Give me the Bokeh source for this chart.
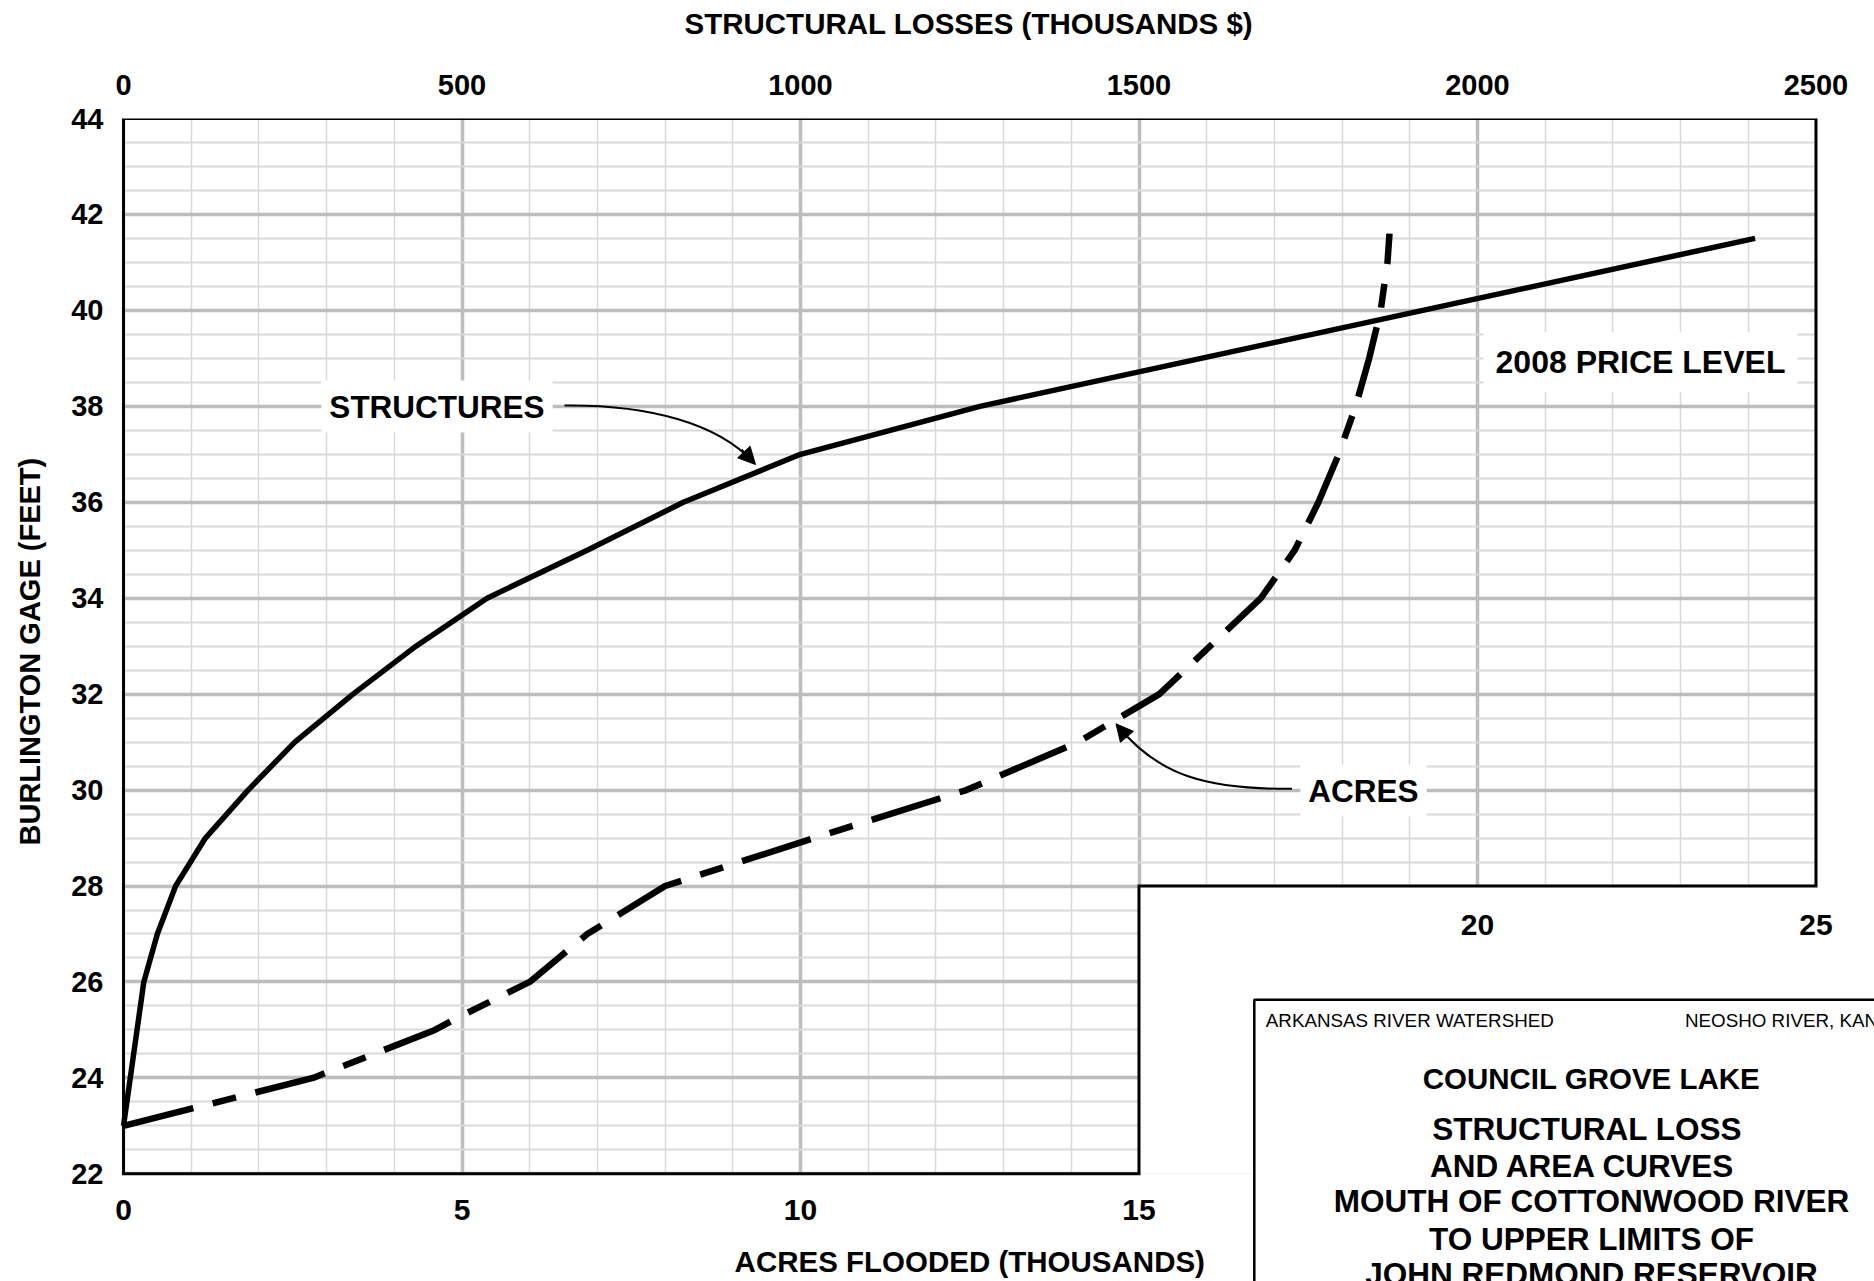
from bokeh.plotting import figure
from bokeh.models import (Range1d, LinearAxis, FixedTicker, SingleIntervalTicker, Grid,
                          Label, Arrow, NormalHead, Title)
from bokeh.embed import file_html
from bokeh.resources import INLINE

# ---------------- data ----------------
struct_gage = [23.0, 26.0, 27.0, 28.0, 29.0, 30.0, 31.0, 32.0, 33.0, 34.0, 35.0, 36.0, 37.0, 38.0, 41.5]
struct_loss = [0, 30, 50, 77, 121, 184, 253, 339, 432, 537, 685, 827, 1000, 1265, 2410]

acres_gage = [23.0, 24.0, 25.0, 25.3, 26.0, 27.0, 28.0, 29.0, 30.0, 31.0, 32.0, 33.0, 34.0,
              35.0, 36.0, 37.0, 38.0, 39.0, 40.0, 41.0, 41.6]
acres_k = [0.0, 2.8, 4.6, 5.0, 6.0, 6.85, 8.0, 10.2, 12.45, 14.1, 15.3, 16.05, 16.8,
           17.3, 17.65, 17.95, 18.2, 18.4, 18.57, 18.67, 18.7]

gage_ticks = [22, 24, 26, 28, 30, 32, 34, 36, 38, 40, 42, 44]
loss_ticks = [0, 500, 1000, 1500, 2000, 2500]
acres_ticks_low = [0, 5, 10, 15]
acres_ticks_high = [20, 25]

# ---------------- layout constants ----------------
W, H = 1874, 1281
X0_PX, FT = 123, 118       # pixel of x=0 / frame top (y=44)
FL = 110                   # frame left (a little left of x=0)
PXX, PXY = 67.7, 47.97     # px per thousand acres, px per foot
Y_TOP = 44
X_START = -(X0_PX - FL) / PXX
X_END = (W - X0_PX) / PXX
Y_START = Y_TOP - (H - FT) / PXY
STEP_X, STEP_Y = 15, 28
FONT = "Liberation Sans"


def fx(px):
    return (px - X0_PX) / PXX


def fy(py):
    return Y_TOP - (py - FT) / PXY


p = figure(width=W, height=H, x_range=Range1d(X_START, X_END), y_range=Range1d(Y_START, Y_TOP),
           output_backend="svg", toolbar_location=None,
           x_axis_location=None, y_axis_location="left",
           min_border_left=FL, min_border_top=FT, min_border_right=0, min_border_bottom=0)
p.outline_line_color = None
p.background_fill_color = "white"
p.border_fill_color = "white"
p.grid.visible = False
p.extra_x_ranges = {"loss": Range1d(X_START * 100, X_END * 100)}

# grids
xg = Grid(dimension=0, ticker=SingleIntervalTicker(interval=5, num_minor_ticks=5),
          grid_line_color="#bdbdbd", grid_line_width=3.5,
          minor_grid_line_color="#d9d9d9", minor_grid_line_width=1.5)
yg = Grid(dimension=1, ticker=SingleIntervalTicker(interval=2, num_minor_ticks=4),
          grid_line_color="#bdbdbd", grid_line_width=3.5,
          minor_grid_line_color="#d9d9d9", minor_grid_line_width=1.8)
p.add_layout(xg)
p.add_layout(yg)

# white-out outside chart area
p.quad(left=[25, X_START - 1, STEP_X, X_START - 1], right=[X_END + 1, X_END + 1, 25, 0],
       bottom=[Y_START - 1, Y_START - 1, 22, Y_START - 1], top=[Y_TOP + 1, 22, STEP_Y, Y_TOP + 1],
       fill_color="white", line_color=None)

# frame
p.line(x=[0, 0, 25, 25, STEP_X, STEP_X, 0, 0], y=[22, 44, 44, STEP_Y, STEP_Y, 22, 22, 44],
       line_color="black", line_width=3, line_join="miter")

# title block
p.quad(left=[fx(1253.8)], right=[X_END + 2], top=[fy(999.2)], bottom=[Y_START - 2],
       fill_color="white", line_color="black", line_width=2.5)

# curves
p.line(x=struct_loss, y=struct_gage, x_range_name="loss", line_color="black",
       line_width=5.5, line_join="round")
p.line(x=acres_k, y=acres_gage, line_color="black", line_width=6.5,
       line_dash="72 20 24 20")


def style_axis(ax, standoff):
    ax.axis_line_color = None
    ax.major_tick_in = 0
    ax.major_tick_out = 0
    ax.minor_tick_in = 0
    ax.minor_tick_out = 0
    ax.major_label_text_font = FONT
    ax.major_label_text_font_style = "bold"
    ax.major_label_text_font_size = "29px"
    ax.major_label_text_color = "black"
    ax.major_label_standoff = standoff


# axes
ya = p.yaxis[0]
ya.ticker = FixedTicker(ticks=gage_ticks)
ya.bounds = (22, 44)
style_axis(ya, 7)

ta = LinearAxis(x_range_name="loss", ticker=FixedTicker(ticks=loss_ticks), bounds=(0, 2500))
style_axis(ta, 24)
p.add_layout(ta, "above")


def gap(size):
    # blank side-panel entry used only to open a gap of about `size` px
    return Title(text=" ", text_font_size="1px", standoff=max(size - 3, 0))


# axis titles (placed in the side panels, beyond a gap)
p.add_layout(gap(32), "above")
top_title = Title(text="STRUCTURAL LOSSES (THOUSANDS $)", align="left", offset=574,
                  text_font=FONT, text_font_style="bold", text_font_size="29.5px",
                  text_color="black", standoff=0)
p.add_layout(top_title, "above")
p.add_layout(gap(18), "left")
left_title = Title(text="BURLINGTON GAGE (FEET)", align="left", offset=436,
                   text_font=FONT, text_font_style="bold", text_font_size="29px",
                   text_color="black", standoff=10)
p.add_layout(left_title, "left")


def lab(x, y, text, size, bold=True, align="center", bg=None, pad=0):
    kw = dict(x=x, y=y, text=text, text_font=FONT, text_font_style="bold" if bold else "normal",
              text_font_size=size, text_align=align, text_baseline="middle", text_color="black")
    if bg:
        kw["background_fill_color"] = bg
        kw["padding"] = pad
    p.add_layout(Label(**kw))


lab(12.5, 22 - 88 / PXY, "ACRES FLOODED (THOUSANDS)", "29.5px")

# bottom tick labels (split axis)
for t in acres_ticks_low:
    lab(t, 22 - 36.3 / PXY, str(t), "30px")
for t in acres_ticks_high:
    lab(t, STEP_Y - 39 / PXY, str(t), "30px")

# curve labels
lab(fx(436.5), fy(406), "STRUCTURES", "31.5px", bg="white", pad=8)
lab(fx(1363), fy(790), "ACRES", "31.5px", bg="white", pad=8)
lab(fx(1640), fy(361.7), "2008 PRICE LEVEL", "32px", bg="white", pad=12)

# arrows
p.bezier(x0=[fx(564)], y0=[fy(405)], x1=[fx(753)], y1=[fy(462)],
         cx0=[fx(648)], cy0=[fy(404)], cx1=[fx(718)], cy1=[fy(423)],
         line_color="black", line_width=2)
p.add_layout(Arrow(end=NormalHead(size=17, fill_color="black", line_color="black", line_width=1),
                   x_start=fx(741), y_start=fy(449), x_end=fx(755), y_end=fy(464),
                   line_color="black", line_width=2))
p.bezier(x0=[fx(1291.5)], y0=[fy(788.3)], x1=[fx(1117)], y1=[fy(725)],
         cx0=[fx(1208)], cy0=[fy(789)], cx1=[fx(1158)], cy1=[fy(776)],
         line_color="black", line_width=2)
p.add_layout(Arrow(end=NormalHead(size=17, fill_color="black", line_color="black", line_width=1),
                   x_start=fx(1127), y_start=fy(737), x_end=fx(1115.5), y_end=fy(723.3),
                   line_color="black", line_width=2))

# title block text
lab(fx(1265.3), fy(1020), "ARKANSAS RIVER WATERSHED", "18.8px", bold=False, align="left")
lab(fx(1684.5), fy(1020), "NEOSHO RIVER, KANSAS", "18.8px", bold=False, align="left")
lab(fx(1591), fy(1078.3), "COUNCIL GROVE LAKE", "29.5px")
lab(fx(1591), fy(1128.3), "STRUCTURAL  LOSS", "31.5px")
lab(fx(1591), fy(1165), "AND  AREA  CURVES", "31.5px")
lab(fx(1591), fy(1200.7), "MOUTH OF COTTONWOOD RIVER", "31.5px")
lab(fx(1591), fy(1238.3), "TO UPPER LIMITS OF", "31.5px")
lab(fx(1591), fy(1273.3), "JOHN REDMOND RESERVOIR", "31.5px")

open("out.html", "w").write(file_html(p, INLINE))
